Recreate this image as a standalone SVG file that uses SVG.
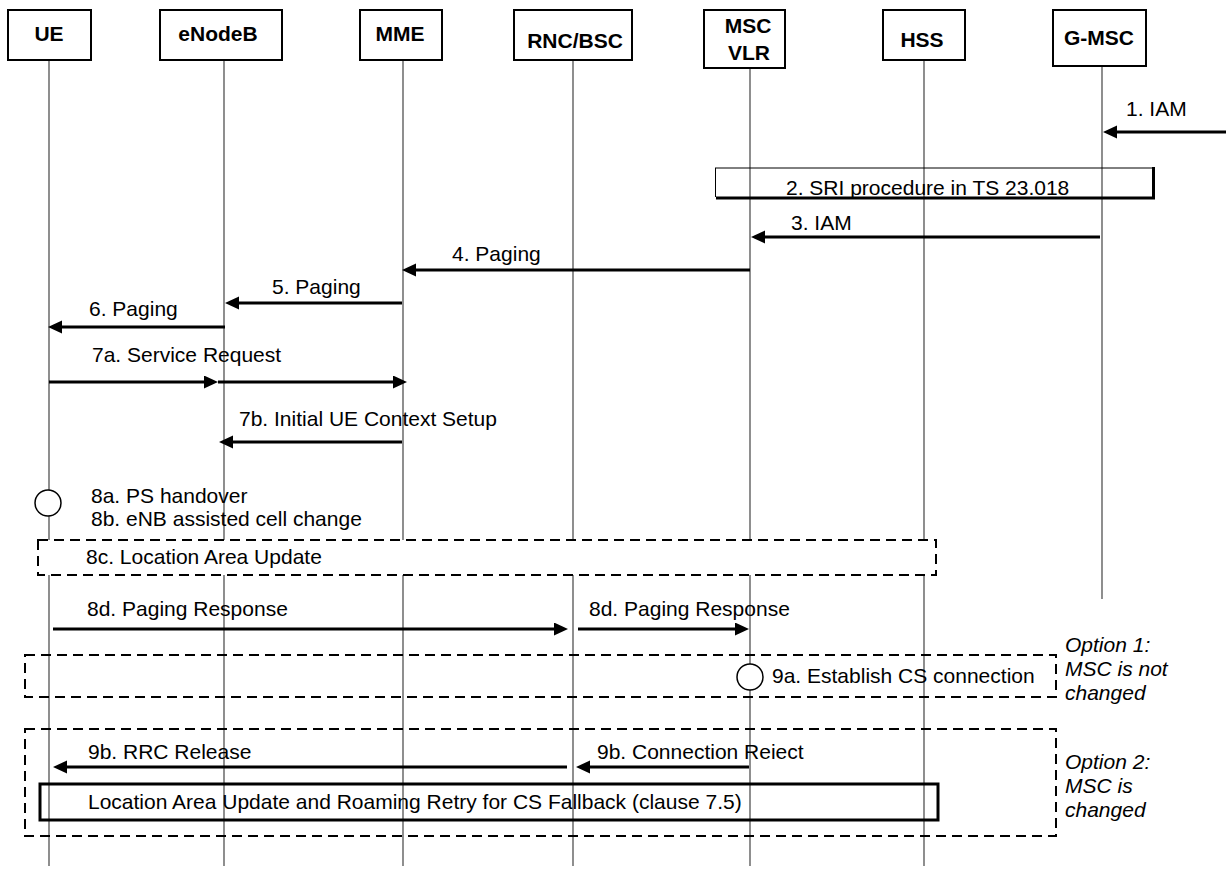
<svg xmlns="http://www.w3.org/2000/svg" width="1226" height="877" viewBox="0 0 1226 877">
<style>
  .hdr { fill: #fff; stroke: #000; stroke-width: 2; }
  .ht { font-family: "Liberation Sans", Arial, sans-serif; font-size: 21px; font-weight: bold; fill: #000; text-anchor: middle; }
  .life { stroke: #444; stroke-width: 1.2; fill: none; }
  .t { font-family: "Liberation Sans", Arial, sans-serif; font-size: 21px; fill: #000; }
  .it { font-family: "Liberation Sans", Arial, sans-serif; font-size: 21px; font-style: italic; fill: #000; }
  .msg { stroke: #000; stroke-width: 3; fill: none; marker-end: url(#ah); }
  .dash { stroke: #000; stroke-width: 2; stroke-dasharray: 10 6; fill: none; }
  .circ { fill: #fff; stroke: #000; stroke-width: 1.5; }
</style>
<defs>
  <marker id="ah" markerUnits="userSpaceOnUse" markerWidth="16" markerHeight="14" refX="4" refY="6.5" orient="auto">
    <path d="M0,0 L14,6.5 L0,13 z" fill="#000"/>
  </marker>
</defs>
<rect width="1226" height="877" fill="#fff"/>

<g id="node-UE">
  <line class="life" x1="49" y1="60" x2="49" y2="866"/>
  <rect class="hdr" x="8" y="10" width="83" height="50"/>
  <text class="ht" x="49" y="41">UE</text>
</g>
<g id="node-eNodeB">
  <line class="life" x1="224" y1="60" x2="224" y2="866"/>
  <rect class="hdr" x="160" y="10" width="122" height="50"/>
  <text class="ht" x="218" y="41">eNodeB</text>
</g>
<g id="node-MME">
  <line class="life" x1="403" y1="60" x2="403" y2="866"/>
  <rect class="hdr" x="360" y="10" width="82" height="50"/>
  <text class="ht" x="400" y="41">MME</text>
</g>
<g id="node-RNC">
  <line class="life" x1="573" y1="60" x2="573" y2="866"/>
  <rect class="hdr" x="514" y="10" width="118" height="50"/>
  <text class="ht" x="575" y="48">RNC/BSC</text>
</g>
<g id="node-MSC">
  <line class="life" x1="750" y1="68" x2="750" y2="866"/>
  <rect class="hdr" x="704" y="10" width="81" height="58"/>
  <text class="ht" x="748" y="33">MSC</text>
  <text class="ht" x="749" y="60">VLR</text>
</g>
<g id="node-HSS">
  <line class="life" x1="924" y1="60" x2="924" y2="866"/>
  <rect class="hdr" x="883" y="10" width="82" height="50"/>
  <text class="ht" x="922" y="47">HSS</text>
</g>
<g id="node-GMSC">
  <line class="life" x1="1102" y1="66" x2="1102" y2="599"/>
  <rect class="hdr" x="1053" y="10" width="93" height="56"/>
  <text class="ht" x="1099" y="45">G-MSC</text>
</g>

<g id="fragments">
  <rect x="38" y="540" width="898" height="35" fill="#fff" stroke="none"/>
  <rect class="dash" x="38" y="540" width="898" height="35"/>
  <rect class="dash" x="25" y="655" width="1031" height="42"/>
  <rect class="dash" x="25" y="729" width="1031" height="107"/>
  <rect x="40" y="784" width="898" height="36" fill="none" stroke="#000" stroke-width="3"/>
  <g id="sri-box">
    <line x1="715" y1="168" x2="1153" y2="168" stroke="#000" stroke-width="1"/>
    <line x1="715.5" y1="168" x2="715.5" y2="197" stroke="#000" stroke-width="1"/>
    <line x1="716" y1="198" x2="1155" y2="198" stroke="#000" stroke-width="3"/>
    <line x1="1153.5" y1="167" x2="1153.5" y2="199" stroke="#000" stroke-width="3"/>
  </g>
  <circle class="circ" cx="48" cy="503" r="13"/>
  <circle class="circ" cx="750" cy="677" r="13"/>
</g>

<g id="connectors">
  <line class="msg" x1="1226" y1="132" x2="1113" y2="132"/>
  <line class="msg" x1="1100" y1="237" x2="761" y2="237"/>
  <line class="msg" x1="750" y1="270" x2="412" y2="270"/>
  <line class="msg" x1="402" y1="303" x2="235" y2="303"/>
  <line class="msg" x1="225" y1="327" x2="58" y2="327"/>
  <line class="msg" x1="49" y1="382" x2="208" y2="382"/>
  <line class="msg" x1="218" y1="382" x2="397" y2="382"/>
  <line class="msg" x1="402" y1="442" x2="229" y2="442"/>
  <line class="msg" x1="53" y1="629" x2="558" y2="629"/>
  <line class="msg" x1="578" y1="629" x2="739" y2="629"/>
  <line class="msg" x1="567" y1="767" x2="63" y2="767"/>
  <line class="msg" x1="749" y1="767" x2="586" y2="767"/>
</g>

<g id="labels">
  <text class="t" x="1126" y="116">1. IAM</text>
  <text class="t" x="786" y="195">2. SRI procedure in TS 23.018</text>
  <text class="t" x="791" y="230">3. IAM</text>
  <text class="t" x="452" y="261">4. Paging</text>
  <text class="t" x="272" y="294">5. Paging</text>
  <text class="t" x="89" y="316">6. Paging</text>
  <text class="t" x="92" y="362">7a. Service Request</text>
  <text class="t" x="239" y="426">7b. Initial UE Context Setup</text>
  <text class="t" x="91" y="503">8a. PS handover</text>
  <text class="t" x="91" y="526">8b. eNB assisted cell change</text>
  <text class="t" x="86" y="564">8c. Location Area Update</text>
  <text class="t" x="87" y="616">8d. Paging Response</text>
  <text class="t" x="589" y="616">8d. Paging Response</text>
  <text class="t" x="772" y="683">9a. Establish CS connection</text>
  <text class="t" x="88" y="759">9b. RRC Release</text>
  <text class="t" x="597" y="759">9b. Connection Reiect</text>
  <text class="t" x="88" y="809">Location Area Update and Roaming Retry for CS Fallback (clause 7.5)</text>
  <text class="it" x="1065" y="652">Option 1:</text>
  <text class="it" x="1065" y="676">MSC is not</text>
  <text class="it" x="1065" y="700">changed</text>
  <text class="it" x="1065" y="769">Option 2:</text>
  <text class="it" x="1065" y="793">MSC is</text>
  <text class="it" x="1065" y="817">changed</text>
</g>
</svg>
